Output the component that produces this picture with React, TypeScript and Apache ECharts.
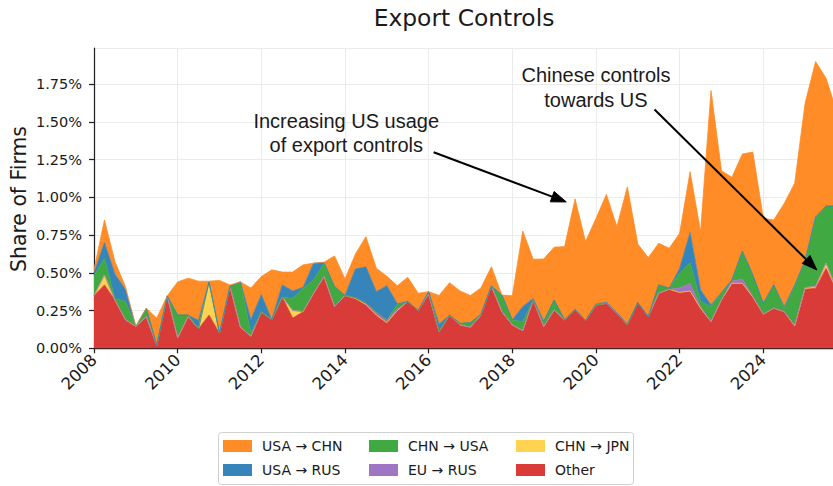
import React, { useEffect, useRef } from "react";
import * as echarts from "echarts";

// Quarterly time stamps (category labels)
const quarters: string[] = [
  "2008 Q1", "2008 Q2", "2008 Q3", "2008 Q4", "2009 Q1", "2009 Q2", "2009 Q3", "2009 Q4",
  "2010 Q1", "2010 Q2", "2010 Q3", "2010 Q4", "2011 Q1", "2011 Q2", "2011 Q3", "2011 Q4",
  "2012 Q1", "2012 Q2", "2012 Q3", "2012 Q4", "2013 Q1", "2013 Q2", "2013 Q3", "2013 Q4",
  "2014 Q1", "2014 Q2", "2014 Q3", "2014 Q4", "2015 Q1", "2015 Q2", "2015 Q3", "2015 Q4",
  "2016 Q1", "2016 Q2", "2016 Q3", "2016 Q4", "2017 Q1", "2017 Q2", "2017 Q3", "2017 Q4",
  "2018 Q1", "2018 Q2", "2018 Q3", "2018 Q4", "2019 Q1", "2019 Q2", "2019 Q3", "2019 Q4",
  "2020 Q1", "2020 Q2", "2020 Q3", "2020 Q4", "2021 Q1", "2021 Q2", "2021 Q3", "2021 Q4",
  "2022 Q1", "2022 Q2", "2022 Q3", "2022 Q4", "2023 Q1", "2023 Q2", "2023 Q3", "2023 Q4",
  "2024 Q1", "2024 Q2", "2024 Q3", "2024 Q4", "2025 Q1", "2025 Q2", "2025 Q3", "2025 Q4",
];

// Share of firms (%), stacked bottom -> top
const other: number[] = [
  0.35, 0.42, 0.32, 0.19, 0.145, 0.21, 0.02, 0.347,
  0.07, 0.21, 0.13, 0.22, 0.10, 0.41, 0.14, 0.08,
  0.24, 0.19, 0.34, 0.20, 0.243, 0.364, 0.475, 0.276,
  0.35, 0.33, 0.29, 0.22, 0.17, 0.25, 0.31, 0.25,
  0.36, 0.11, 0.22, 0.155, 0.14, 0.22, 0.413, 0.243,
  0.155, 0.117, 0.32, 0.144, 0.254, 0.188, 0.258, 0.183,
  0.287, 0.298, 0.232, 0.155, 0.303, 0.21, 0.365, 0.391,
  0.37, 0.38, 0.265, 0.177, 0.321, 0.431, 0.431, 0.34,
  0.226, 0.266, 0.243, 0.148, 0.391, 0.398, 0.53, 0.38,
];
const chnJpn: number[] = [
  0, 0.065, 0, 0, 0, 0, 0, 0,
  0, 0, 0, 0.22, 0, 0, 0, 0,
  0, 0, 0, 0.05, 0, 0, 0, 0,
  0, 0, 0, 0, 0, 0, 0, 0,
  0, 0, 0, 0, 0, 0, 0, 0,
  0, 0, 0, 0, 0, 0, 0, 0,
  0, 0, 0, 0, 0, 0, 0, 0,
  0, 0, 0, 0, 0, 0, 0, 0,
  0, 0, 0, 0, 0.011, 0.011, 0.034, 0.01,
];
const euRus: number[] = [
  0, 0, 0, 0, 0, 0, 0, 0,
  0, 0, 0, 0, 0, 0, 0, 0,
  0, 0, 0, 0, 0, 0, 0, 0,
  0, 0.005, 0.01, 0.02, 0.018, 0.01, 0, 0,
  0, 0, 0, 0, 0, 0, 0, 0,
  0, 0, 0, 0, 0, 0, 0, 0,
  0, 0, 0, 0, 0, 0, 0, 0,
  0.03, 0.05, 0.01, 0, 0, 0.015, 0.026, 0.005,
  0, 0, 0, 0.005, 0, 0, 0, 0,
];
const chnUsa: number[] = [
  0.13, 0.11, 0.01, 0.12, 0, 0.055, 0, 0,
  0.15, 0.01, 0, 0, 0, 0, 0.30, 0.02,
  0, 0, 0, 0.08, 0.155, 0.09, 0.088, 0.133,
  0, 0, 0, 0, 0, 0.03, 0, 0,
  0.015, 0, 0, 0.01, 0.03, 0.005, 0, 0.11,
  0.033, 0.06, 0, 0.033, 0.066, 0, 0, 0,
  0, 0, 0, 0, 0, 0, 0.055, 0.007,
  0.097, 0.137, 0.035, 0.099, 0.044, 0.007, 0.183, 0.14,
  0.072, 0.154, 0.022, 0.256, 0.173, 0.453, 0.379, 0.553,
];
const usaRus: number[] = [
  0.02, 0.105, 0.16, 0.08, 0, 0, 0, 0,
  0, 0, 0.055, 0, 0, 0, 0, 0.09,
  0.115, 0, 0.08, 0.05, 0.007, 0.11, 0.007, 0,
  0, 0.19, 0.24, 0.135, 0.227, 0.005, 0, 0,
  0, 0.05, 0, 0, 0, 0, 0, 0,
  0, 0.10, 0.01, 0, 0, 0, 0, 0,
  0.007, 0.007, 0.005, 0.005, 0, 0, 0, 0,
  0.033, 0.2, 0.077, 0.011, 0.005, 0, 0.005, 0,
  0, 0, 0.011, 0.01, 0.01, 0.01, 0, 0,
];
const usaChn: number[] = [
  0.02, 0.15, 0.085, 0.02, 0, 0, 0.18, 0,
  0.22, 0.245, 0.26, 0.005, 0.35, 0.01, 0, 0.21,
  0.12, 0.33, 0.085, 0.125, 0.148, 0, 0, 0.203,
  0.11, 0.10, 0.20, 0.155, 0.062, 0.12, 0.16, 0.115,
  0, 0.19, 0.215, 0.215, 0.18, 0.175, 0.128, 0,
  0.16, 0.50, 0.26, 0.415, 0.35, 0.486, 0.732, 0.524,
  0.566, 0.715, 0.569, 0.91, 0.388, 0.391, 0.276, 0.265,
  0.232, 0.403, 0.386, 1.421, 0.807, 0.68, 0.643, 0.815,
  0.564, 0.43, 0.684, 0.674, 1.04, 1.028, 0.847, 0.63,
];

const seriesNames: string[] = ["Other", "CHN → JPN", "EU → RUS", "CHN → USA", "USA → RUS", "USA → CHN"];
const seriesValues: number[][] = [other, chnJpn, euRus, chnUsa, usaRus, usaChn];
const seriesColors: string[] = ["#D93B39", "#FFD24F", "#9F76C4", "#41A941", "#3585BB", "#FF8C26"];

// Annotations: [textQuarterIndex, textY, arrowStartIndex, arrowStartY, tipIndex, tipY]
// (x given as fractional quarter index from 2008 Q1)
const annotationTexts: string[] = ["Increasing US usage\nof export controls", "Chinese controls\ntowards US"];
const annotationAnchors: number[][] = [
  [24.12, 1.427, 32.48, 1.299, 45.16, 0.97],
  [48.0, 1.728, 53.6, 1.583, 69.12, 0.519],
];

const FONT = "DejaVu Sans";
const TEXT_COLOR = "#1a1a1a";

export default function App() {
  const ref = useRef<HTMLDivElement>(null);
  useEffect(() => {
    if (!ref.current) return;
    const chart = echarts.init(ref.current, undefined, { renderer: "svg" });
    const series = seriesNames.map((name, si) => ({
      name,
      type: "line",
      stack: "total",
      data: seriesValues[si],
      showSymbol: false,
      symbol: "none",
      clip: true,
      lineStyle: { width: 0.8, color: seriesColors[si] },
      itemStyle: { color: seriesColors[si] },
      areaStyle: { color: seriesColors[si], opacity: 1 },
      emphasis: { disabled: true },
      silent: true,
    }));
    const legendBase = {
      orient: "vertical",
      top: 439,
      itemWidth: 29,
      itemHeight: 12,
      itemGap: 10,
      icon: "rect",
      padding: 0,
      selectedMode: false,
      textStyle: { fontFamily: FONT, fontSize: 14, color: TEXT_COLOR, lineHeight: 14, padding: [0, 0, 0, 5] },
    };
    const option: any = {
      animation: false,
      textStyle: { fontFamily: FONT },
      grid: { left: 94, top: 48, width: 742.5, height: 300.3, containLabel: false, outerBoundsMode: "none" },
      xAxis: {
        type: "category",
        data: quarters,
        boundaryGap: false,
        axisLine: { show: true, onZero: false, lineStyle: { color: "#222", width: 1.25 } },
        axisTick: { show: true, interval: 7, length: 5, lineStyle: { color: "#222", width: 1.25 } },
        axisLabel: {
          interval: 7,
          rotate: 45,
          margin: 9,
          fontSize: 16.5,
          fontFamily: FONT,
          color: TEXT_COLOR,
          formatter: (v: string) => v.slice(0, 4),
        },
        splitLine: { show: true, interval: 7, lineStyle: { color: "#ebebeb", width: 1 } },
      },
      yAxis: {
        type: "value",
        min: 0,
        max: 1.99,
        interval: 0.25,
        axisLine: { show: true, lineStyle: { color: "#222", width: 1.25 } },
        axisTick: { show: true, length: 5, lineStyle: { color: "#222", width: 1.25 } },
        axisLabel: {
          margin: 12,
          fontSize: 14.5,
          fontFamily: FONT,
          color: TEXT_COLOR,
          showMaxLabel: false,
          formatter: (v: number) => v.toFixed(2) + "%",
        },
        splitLine: { show: true, lineStyle: { color: "#ebebeb", width: 1 } },
      },
      legend: [
        { ...legendBase, left: 223, data: ["USA → CHN", "USA → RUS"] },
        { ...legendBase, left: 369, data: ["CHN → USA", "EU → RUS"] },
        { ...legendBase, left: 516, data: ["CHN → JPN", "Other"] },
      ],
      series,
    };
    chart.setOption(option);

    const toPx = (qx: number, y: number): number[] => {
      const i0 = Math.floor(qx);
      const f = qx - i0;
      const p0 = chart.convertToPixel({ gridIndex: 0 }, [i0, y]) as number[];
      const p1 = chart.convertToPixel({ gridIndex: 0 }, [i0 + 1, y]) as number[];
      return [p0[0] + f * (p1[0] - p0[0]), p0[1]];
    };

    const graphics: any[] = [
      {
        type: "rect",
        z: -10,
        shape: { x: 218.5, y: 432.5, width: 415, height: 52, r: 3 },
        style: { fill: "rgba(255,255,255,0.85)", stroke: "#d0d0d0", lineWidth: 1 },
      },
      {
        type: "text",
        x: 464,
        y: 18,
        style: {
          text: "Export Controls",
          fontSize: 23.4,
          fontFamily: FONT,
          fill: TEXT_COLOR,
          align: "center",
          verticalAlign: "middle",
        },
      },
      {
        type: "text",
        x: 19,
        y: 199,
        rotation: Math.PI / 2,
        style: {
          text: "Share of Firms",
          fontSize: 20.4,
          fontFamily: FONT,
          fill: TEXT_COLOR,
          align: "center",
          verticalAlign: "middle",
        },
      },
    ];
    annotationAnchors.forEach((a, idx) => {
      const t = toPx(a[0], a[1]);
      const s = toPx(a[2], a[3]);
      const e = toPx(a[4], a[5]);
      const dx = e[0] - s[0];
      const dy = e[1] - s[1];
      const len = Math.sqrt(dx * dx + dy * dy);
      const ux = dx / len;
      const uy = dy / len;
      const headLen = 15;
      const hw = 5.5;
      const bx = e[0] - ux * headLen;
      const by = e[1] - uy * headLen;
      graphics.push({
        type: "text",
        z: 100,
        x: t[0],
        y: t[1],
        style: {
          text: annotationTexts[idx],
          fontSize: 20,
          fontFamily: "Liberation Sans",
          fill: TEXT_COLOR,
          align: "center",
          verticalAlign: "middle",
          lineHeight: 24.3,
        },
      });
      graphics.push({
        type: "line",
        z: 100,
        shape: { x1: s[0], y1: s[1], x2: bx + ux * 2, y2: by + uy * 2 },
        style: { stroke: "#000", lineWidth: 2 },
      });
      graphics.push({
        type: "polygon",
        z: 100,
        shape: {
          points: [
            [e[0], e[1]],
            [bx - uy * hw, by + ux * hw],
            [bx + uy * hw, by - ux * hw],
          ],
        },
        style: { fill: "#000", stroke: "#000", lineWidth: 1 },
      });
    });
    chart.setOption({ graphic: { elements: graphics } });
    return () => chart.dispose();
  }, []);
  return (
    <div
      ref={ref}
      style={{ position: "fixed", left: 0, top: 0, width: 833, height: 486, background: "#fff", overflow: "hidden" }}
    />
  );
}
